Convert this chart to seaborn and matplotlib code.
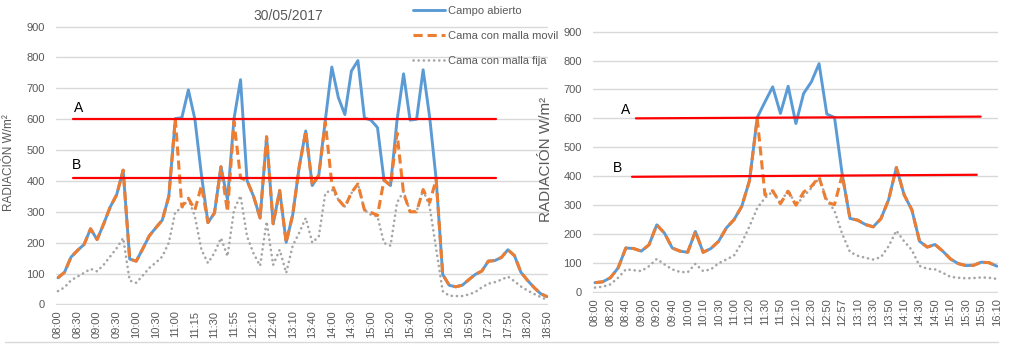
import numpy as np
import matplotlib.pyplot as plt
from matplotlib.lines import Line2D
import seaborn as sns

sns.set_style('white')
plt.rcParams['font.family'] = ['Liberation Sans', 'DejaVu Sans']

# ---- left chart: 30/05/2017 ----
left_times = ['08:00', '08:10', '08:20', '08:30', '08:40', '08:50', '09:00', '09:10', '09:20',
              '09:30', '09:40', '09:50', '10:00', '10:10', '10:20', '10:30', '10:40', '10:50',
              '11:00', '11:05', '11:10', '11:15', '11:20', '11:25', '11:30', '11:35', '11:45',
              '11:55', '12:00', '12:05', '12:10', '12:20', '12:30', '12:40', '12:50', '13:00',
              '13:10', '13:20', '13:30', '13:40', '13:45', '13:50', '14:00', '14:10', '14:20',
              '14:30', '14:40', '14:50', '15:00', '15:05', '15:15', '15:20', '15:25', '15:35',
              '15:40', '15:45', '15:50', '16:00', '16:05', '16:15', '16:20', '16:30', '16:40',
              '16:50', '17:00', '17:10', '17:20', '17:30', '17:40', '17:50', '18:00', '18:10',
              '18:20', '18:30', '18:40', '18:50']
left_campo = [86, 104, 153, 175, 194, 245, 210, 260, 315, 355,
              435, 147, 140, 180, 222, 248, 273, 350, 602, 605,
              695, 600, 420, 265, 296, 446, 339, 602, 728, 401,
              350, 280, 543, 261, 369, 201, 290, 446, 562, 385,
              419, 597, 769, 670, 615, 756, 790, 604, 597, 573,
              403, 385, 597, 747, 597, 600, 760, 607, 405, 97,
              62, 57, 62, 80, 97, 108, 140, 142, 152, 177,
              158, 104, 78, 55, 35, 25]
left_movil = [86, 104, 153, 175, 194, 245, 210, 260, 315, 355,
              435, 147, 140, 180, 222, 248, 273, 350, 600, 317,
              344, 306, 385, 265, 296, 446, 300, 592, 410, 401,
              350, 280, 543, 261, 369, 201, 290, 446, 562, 385,
              419, 590, 390, 340, 315, 362, 390, 306, 298, 288,
              403, 385, 555, 360, 300, 300, 372, 330, 405, 97,
              62, 57, 62, 80, 97, 108, 140, 142, 152, 177,
              158, 104, 78, 55, 35, 25]
left_fija = [43, 55, 78, 90, 102, 115, 107, 128, 155, 182,
             215, 77, 70, 93, 118, 135, 155, 200, 300, 312,
             342, 285, 177, 134, 167, 215, 156, 306, 352, 220,
             165, 125, 268, 128, 177, 102, 190, 232, 280, 200,
             220, 360, 372, 340, 317, 360, 392, 306, 290, 285,
             199, 190, 330, 366, 301, 301, 371, 317, 180, 43,
             28, 27, 27, 32, 40, 55, 67, 72, 80, 90,
             75, 58, 45, 34, 24, 15]
# threshold lines A / B: start category, end category, start value, end value
left_lines = {'A': (2.3, 67.2, 600, 600), 'B': (2.3, 67.2, 410, 410)}
left_letters = {'A': (3.2, 635), 'B': (2.8, 452)}

# ---- right chart ----
right_times = ['08:00', '08:10', '08:20', '08:30', '08:40', '08:50', '09:00', '09:10', '09:20',
               '09:30', '09:40', '09:50', '10:00', '10:05', '10:10', '10:20', '10:30', '10:45',
               '11:00', '11:10', '11:20', '11:25', '11:30', '11:40', '11:50', '12:00', '12:10',
               '12:20', '12:30', '12:40', '12:50', '12:55', '12:57', '13:00', '13:10', '13:20',
               '13:30', '13:40', '13:50', '14:00', '14:10', '14:20', '14:30', '14:40', '14:50',
               '15:00', '15:10', '15:20', '15:30', '15:40', '15:50', '16:00', '16:10']
right_campo = [32, 35, 49, 83, 152, 150, 141, 163, 232, 203,
               152, 141, 137, 209, 137, 150, 175, 221, 250, 296,
               385, 603, 657, 709, 617, 711, 582, 686, 726, 789,
               615, 603, 405, 254, 248, 233, 225, 253, 319, 430,
               336, 284, 175, 155, 164, 141, 114, 98, 91, 92,
               103, 101, 89]
right_movil = [32, 35, 49, 83, 152, 150, 141, 163, 232, 203,
               152, 141, 137, 209, 137, 150, 175, 221, 250, 296,
               385, 600, 335, 350, 305, 348, 300, 345, 365, 397,
               310, 302, 405, 254, 248, 233, 225, 253, 319, 430,
               336, 284, 175, 155, 164, 141, 114, 98, 91, 92,
               103, 101, 89]
right_fija = [15, 18, 26, 49, 78, 75, 72, 89, 114, 95,
              78, 69, 68, 97, 72, 78, 99, 112, 126, 170,
              227, 290, 325, 347, 307, 353, 299, 330, 359, 393,
              320, 280, 200, 138, 125, 118, 112, 120, 158, 212,
              175, 145, 90, 80, 78, 66, 52, 49, 47, 48,
              50, 49, 45]
right_lines = {'A': (5.3, 49.9, 600, 606), 'B': (4.8, 49.4, 398, 405)}
right_letters = {'A': (4.0, 629), 'B': (2.9, 429)}

series_names = ['Campo abierto', 'Cama con malla movil', 'Cama con malla fija']
BLUE = '#5B9BD5'
ORANGE = '#ED7D31'
GREY = '#A5A5A5'
RED = '#FF0000'
TXT = '#595959'


def draw_panel(ax, times, campo, movil, fija, lines, letters, step, xlim, label_size):
    x = np.arange(len(times))
    sns.lineplot(x=x, y=fija, ax=ax, color=GREY, lw=1.9, linestyle=(0, (0.05, 1.9)),
                 dash_capstyle='round', label=series_names[2], legend=False, zorder=2)
    sns.lineplot(x=x, y=campo, ax=ax, color=BLUE, lw=2.1, label=series_names[0],
                 legend=False, zorder=3)
    sns.lineplot(x=x, y=movil, ax=ax, color=ORANGE, lw=2.2, linestyle=(0, (3, 1.6)),
                 label=series_names[1], legend=False, zorder=4)
    for name, (x0, x1, y0, y1) in lines.items():
        sns.lineplot(x=[x0, x1], y=[y0, y1], ax=ax, color=RED, lw=1.6, legend=False, zorder=5)
        lx, ly = letters[name]
        ax.text(lx, ly, name, fontsize=10, ha='center', va='center', color='black')

    ax.set_xlim(*xlim)
    ax.set_ylim(-2, 902)
    ax.set_yticks(range(0, 901, 100))
    ax.set_xticks(x[::step])
    ax.set_xticklabels(times[::step], rotation=90, fontsize=8, color=TXT)
    ax.tick_params(axis='y', labelsize=8, labelcolor=TXT, length=0, pad=8)
    ax.tick_params(axis='x', length=0, pad=4)
    ax.yaxis.grid(True, color='#D9D9D9', lw=1)
    ax.xaxis.grid(False)
    for s in ax.spines.values():
        s.set_visible(False)
    ax.set_xlabel('')
    ax.set_ylabel('RADIACIÓN W/m²', fontsize=label_size, color=TXT)


fig = plt.figure(figsize=(10.1, 3.52), dpi=100)
ax1 = fig.add_axes([56 / 1010, 47 / 352, 492 / 1010, 279 / 352])
ax2 = fig.add_axes([593 / 1010, 59.5 / 352, 405 / 1010, 261.5 / 352])

draw_panel(ax1, left_times, left_campo, left_movil, left_fija, left_lines, left_letters,
           3, (-0.3, 75.15), 8.5)
draw_panel(ax2, right_times, right_campo, right_movil, right_fija, right_lines, right_letters,
           2, (-0.25, 52.15), 11)
ax1.yaxis.set_label_coords(-0.083, 0.51)
ax2.yaxis.set_label_coords(-0.099, 0.507)

fig.text(288 / 1010, 1 - 16 / 352, '30/05/2017', ha='center', va='center', fontsize=10, color=TXT)

handles, labels = ax1.get_legend_handles_labels()
order = [labels.index(n) for n in series_names]
fig.legend([handles[i] for i in order], [labels[i] for i in order],
           loc='upper left', bbox_to_anchor=(405 / 1010, 1.005), frameon=False, fontsize=8,
           handlelength=2.9, handletextpad=0.3, labelspacing=1.35, borderpad=0.2,
           labelcolor=TXT)

fig.add_artist(Line2D([5 / 1010, 998 / 1010], [10 / 352, 10 / 352], color='#D9D9D9', lw=1))

plt.savefig('out.png', dpi=100)
